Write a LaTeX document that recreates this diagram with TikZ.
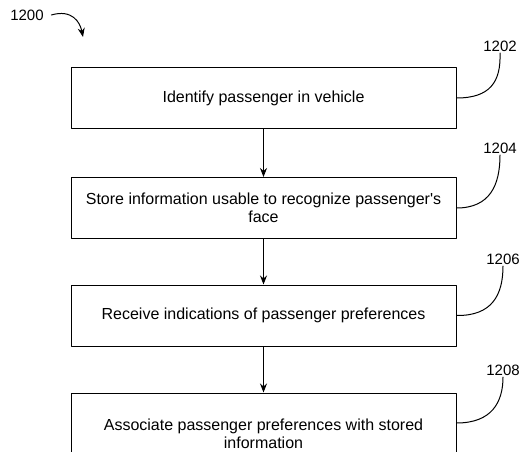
\documentclass[tikz,border=0pt]{standalone}
\usepackage{fontspec}
\setmainfont{Liberation Sans}[Ligatures=TeXOff]
\usetikzlibrary{arrows.meta}
\begin{document}
\begin{tikzpicture}[x=1bp,y=-1bp,line cap=round,line join=round,
  font=\fontsize{16bp}{18.5bp}\selectfont,
  stepbox/.style={draw,line width=1pt,minimum width=385bp,minimum height=61bp,align=center,inner sep=0pt},
  flow/.style={-{Stealth[length=9bp,width=7bp]},line width=1pt},
  hook/.style={line width=1pt},
  tag/.style={font=\fontsize{15bp}{18bp}\selectfont,inner sep=1.5bp}]
  \clip (0,0) rectangle (522,452);
  % steps
  \node[stepbox] (s1) at (263.5,98) {Identify passenger in vehicle};
  \node[stepbox] (s2) at (263.5,208) {Store information usable to recognize passenger's\\face};
  \node[stepbox] (s3) at (263.5,315.5) {Receive indications of passenger preferences};
  \node[stepbox,minimum height=82bp] (s4) at (263.5,434) {Associate passenger preferences with stored\\information};
  \draw[flow] (s1) -- (s2);
  \draw[flow] (s2) -- (s3);
  \draw[flow] (s3) -- (s4);
  % reference numerals
  \node[tag] (fig) at (27,15) {1200};
  \coordinate (figtip) at (83,37);
  \draw[flow] (fig.east) ++(6bp,0) .. controls (72,9) and (80,22) .. (figtip);
  \node[tag] (t1) at (500,46) {1202};
  \node[tag] (t2) at (500,148) {1204};
  \node[tag] (t3) at (503,259) {1206};
  \node[tag] (t4) at (503,370) {1208};
  \draw[hook] (s1.east) .. controls (490,98) and (501,82) .. (t1.south);
  \draw[hook] (s2.east) .. controls (490,208) and (500,185) .. (t2.south);
  \draw[hook] (s3.east) .. controls (492,316) and (503,295) .. (t3.south);
  \draw[hook] ([yshift=11bp]s4.east) .. controls (492,423) and (503,402) .. (t4.south);
\end{tikzpicture}
\end{document}
